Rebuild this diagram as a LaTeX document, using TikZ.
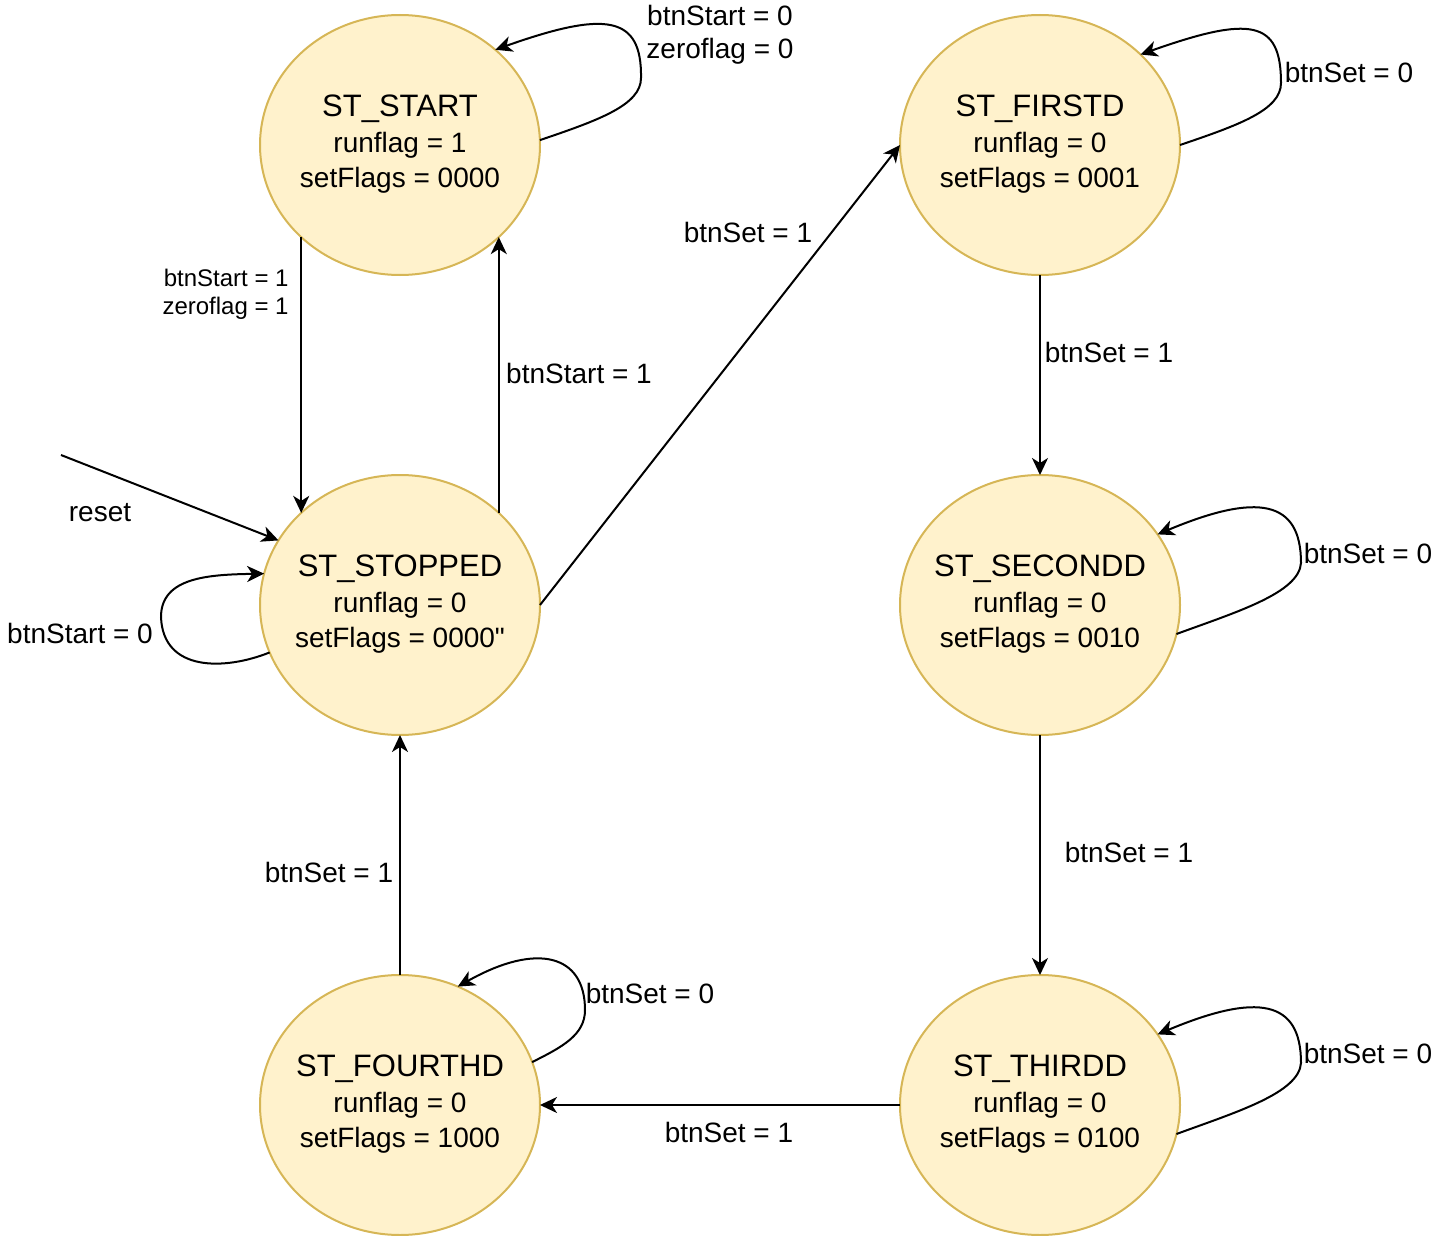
\documentclass[tikz,border=0pt]{standalone}
\usepackage{fontspec}
\setmainfont{Liberation Sans}
\usepackage{xcolor}
\usepackage{tikz}
\usetikzlibrary{shapes.geometric}
\usetikzlibrary{arrows.meta}
\definecolor{statefill}{HTML}{FFF2CC}
\definecolor{stateline}{HTML}{D6B656}
% state text: name, runflag line, setFlags line (width kept out of the ellipse size)
\newcommand{\stbody}[3]{\makebox[0pt]{\raisebox{-1pt}{\begin{tabular}{@{}c@{}}{\fontsize{15.5}{17.5}\selectfont #1}\\[0.75pt]#2\\#3\end{tabular}}}}
\newcommand{\straightquote}{\XeTeXglyph\XeTeXcharglyph"22\relax}
\tikzset{
  fsmstate/.style={ellipse, draw=stateline, fill=statefill, line width=1pt,
    minimum width=140pt, minimum height=130pt, inner sep=0pt, outer sep=0pt,
    font=\fontsize{14}{17.5}\selectfont},
  cond/.style={inner sep=0pt, align=center, font=\fontsize{14}{16.5}\selectfont},
  smallcond/.style={inner sep=0pt, align=right, font=\fontsize{12}{14}\selectfont},
  trans/.style={-{Stealth[length=8.5pt,width=8pt,inset=2.5pt]}, line width=1pt}
}

\begin{document}
\begin{tikzpicture}[x=0.5pt,y=-0.5pt]
            \useasboundingbox (0,0) rectangle (1442,1236);
            % States
            \node[fsmstate] (start) at (400,145) {\stbody{ST\_START}{runflag = 1}{setFlags = 0000}};
            \node[fsmstate] (stopped) at (400,605) {\stbody{ST\_STOPPED}{runflag = 0}{setFlags = 0000\straightquote}};
            \node[fsmstate] (firstd) at (1040,145) {\stbody{ST\_FIRSTD}{runflag = 0}{setFlags = 0001}};
            \node[fsmstate] (secondd) at (1040,605) {\stbody{ST\_SECONDD}{runflag = 0}{setFlags = 0010}};
            \node[fsmstate] (thirdd) at (1040,1105) {\stbody{ST\_THIRDD}{runflag = 0}{setFlags = 0100}};
            \node[fsmstate] (fourthd) at (400,1105) {\stbody{ST\_FOURTHD}{runflag = 0}{setFlags = 1000}};
            % Transitions
            \coordinate (resetin) at (61,455);
            \draw[trans] (resetin) -- (stopped.152);
            \draw[trans] (start.223) -- (stopped.137);
            \draw[trans] (stopped.43) -- (start.317);
            \draw[trans] (stopped.east) -- (firstd.west);
            \draw[trans] (firstd) -- (secondd);
            \draw[trans] (secondd) -- (thirdd);
            \draw[trans] (thirdd) -- (fourthd);
            \draw[trans] (fourthd) -- (stopped);
            % Self loops
            \draw[trans] (start.2) .. controls +(59,-20) and +(0,27) .. (641,78)
                .. controls +(1,-63) and +(110,-39) .. (start.45);
            \draw[trans] (firstd.east) .. controls +(59,-20) and +(0,27) .. (1281,83)
                .. controls +(0,-63) and +(110,-39) .. (firstd.42);
            \draw[trans] (secondd.-12) .. controls +(60,-22) and +(-2,30) .. (1301,563)
                .. controls +(0,-63) and +(100,-42) .. (secondd.31);
            \draw[trans] (thirdd.-12) .. controls +(60,-22) and +(-2,30) .. (1301,1063)
                .. controls +(0,-63) and +(100,-42) .. (thirdd.31);
            \draw[trans] (fourthd.18) .. controls +(30,-15) and +(0,25) .. (585,1010)
                .. controls +(0,-55) and +(80,-45) .. (fourthd.64);
            \draw[trans] (stopped.200) .. controls +(-45,18) and +(2,55) .. (161,617)
                .. controls +(0,-40) and +(-55,1) .. (stopped.167);
            % Conditions
            \node[cond] (lstartloop) at (720,35) {btnStart = 0\\zeroflag = 0};
            \node[cond] (lfirstloop) at (1349,72) {btnSet = 0};
            \node[cond] (lsecondloop) at (1368,553) {btnSet = 0};
            \node[cond] (lthirdloop) at (1368,1053) {btnSet = 0};
            \node[cond] (lfourthloop) at (650,993) {btnSet = 0};
            \node[cond] (lstoploop) at (80,633) {btnStart = 0};
            \node[cond] (lreset) at (100,513) {reset};
            \node[smallcond, anchor=east] (lstartstop) at (289,294) {btnStart = 1\\zeroflag = 1};
            \node[cond] (lstopstart) at (579,373) {btnStart = 1};
            \node[cond] (lstopfirst) at (748,232) {btnSet = 1};
            \node[cond] (lfirstsecond) at (1109,352) {btnSet = 1};
            \node[cond] (lsecondthird) at (1129,852) {btnSet = 1};
            \node[cond] (lthirdfourth) at (729,1132) {btnSet = 1};
            \node[cond] (lfourthstop) at (329,872) {btnSet = 1};
        \end{tikzpicture}
\end{document}
